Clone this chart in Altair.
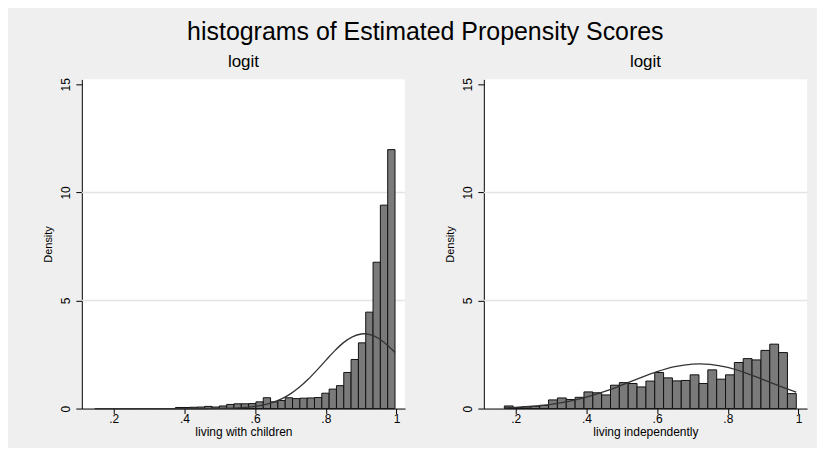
import altair as alt
import pandas as pd

FONT = "Liberation Sans"

# ---- left panel: living with children (41 bins) ----
LEFT_BIN_START = 0.147
LEFT_BIN_WIDTH = 0.0207
left_density = [0, 0, 0, 0, 0, 0, 0, 0, 0, 0, 0,
                0.05, 0.05, 0.06, 0.07, 0.10, 0.07, 0.12, 0.19, 0.22, 0.22,
                0.23, 0.31, 0.50, 0.31, 0.37, 0.50, 0.46, 0.48, 0.49, 0.51,
                0.71, 0.90, 1.06, 1.67, 2.27, 3.04, 4.46, 6.77, 9.41, 11.98]
left_curve_x = [0.147, 0.45, 0.50, 0.55, 0.60, 0.625, 0.65, 0.675, 0.70, 0.725, 0.75,
                0.775, 0.80, 0.825, 0.85, 0.875, 0.90, 0.908, 0.925, 0.95, 0.975, 0.996]
left_curve_y = [0.0, 0.001, 0.007, 0.028, 0.098, 0.170, 0.283, 0.449, 0.680, 0.983, 1.353,
                1.78, 2.23, 2.67, 3.05, 3.32, 3.45, 3.46, 3.42, 3.24, 2.92, 2.59]

# ---- right panel: living independently (33 bins) ----
RIGHT_BIN_START = 0.168
RIGHT_BIN_WIDTH = 0.02502
right_density = [0.12, 0.05, 0.08, 0.10, 0.15, 0.40, 0.49, 0.42, 0.52, 0.77,
                 0.73, 0.63, 1.08, 1.20, 1.16, 1.00, 1.27, 1.67, 1.42, 1.28,
                 1.30, 1.56, 1.16, 1.79, 1.36, 1.56, 2.13, 2.31, 2.25, 2.69,
                 2.98, 2.59, 0.69]
right_curve_x = [0.168, 0.20, 0.25, 0.30, 0.35, 0.40, 0.45, 0.50, 0.55, 0.60, 0.65,
                 0.70, 0.72, 0.75, 0.80, 0.85, 0.90, 0.95, 0.9935]
right_curve_y = [0.035, 0.055, 0.107, 0.194, 0.330, 0.523, 0.778, 1.081, 1.404, 1.706, 1.938,
                 2.059, 2.07, 2.045, 1.900, 1.650, 1.340, 1.017, 0.759]

x_ticks = [0.2, 0.4, 0.6, 0.8, 1.0]
y_ticks = [0, 5, 10, 15]
grid_vals = [5, 10]

X_DOMAIN = [0.11, 1.024]
Y_DOMAIN = [0, 15.23]


def panel(density, start, width, cx, cy, xtitle):
    bins = pd.DataFrame({
        "x0": [start + i * width for i in range(len(density))],
        "x1": [start + (i + 1) * width for i in range(len(density))],
        "d": density,
    })
    curve = pd.DataFrame({"x": cx, "y": cy})
    grid = pd.DataFrame({"g": grid_vals})

    xscale = alt.Scale(domain=X_DOMAIN, nice=False, zero=False)
    yscale = alt.Scale(domain=Y_DOMAIN, nice=False)

    xaxis = alt.Axis(values=x_ticks, title=xtitle, grid=False,
                     labelExpr="datum.value == 1 ? '1' : replace(format(datum.value, '.1f'), '0.', '.')")
    yaxis = alt.Axis(values=y_ticks, title="Density", grid=False, labelAngle=-90,
                     labelAlign="center", labelBaseline="bottom")

    g = alt.Chart(grid).mark_rule(color="#e4e4e4", strokeWidth=1.5).encode(
        y=alt.Y("g:Q", scale=yscale, axis=yaxis)
    )
    bars = alt.Chart(bins).mark_rect(fill="#7a7a7a", stroke="#111111", strokeWidth=1).encode(
        x=alt.X("x0:Q", scale=xscale, axis=xaxis),
        x2="x1:Q",
        y=alt.Y("d:Q", scale=yscale, axis=yaxis),
        y2=alt.datum(0),
    )
    line = alt.Chart(curve).mark_line(color="#333333", strokeWidth=1.3,
                                      interpolate="monotone").encode(
        x=alt.X("x:Q", scale=xscale, axis=xaxis),
        y=alt.Y("y:Q", scale=yscale, axis=yaxis),
    )
    return alt.layer(g, bars, line).properties(
        width=324, height=330,
        title=alt.TitleParams("logit", fontSize=17, font=FONT, fontWeight="normal",
                              color="black", offset=7),
    )


left = panel(left_density, LEFT_BIN_START, LEFT_BIN_WIDTH, left_curve_x, left_curve_y,
             "living with children")
right = panel(right_density, RIGHT_BIN_START, RIGHT_BIN_WIDTH, right_curve_x, right_curve_y,
              "living independently")

chart = alt.hconcat(left, right, spacing=39).properties(
    title=alt.TitleParams("histograms of Estimated Propensity Scores", fontSize=25,
                          font=FONT, fontWeight="normal", color="black",
                          anchor="middle", offset=8),
    background="#efefef",
    padding={"left": 35, "top": 11, "right": 9, "bottom": 10},
).configure_view(
    fill="white", stroke=None
).configure_axis(
    labelFont=FONT, titleFont=FONT, labelFontSize=12, titleFontSize=12,
    titleFontWeight="normal", labelColor="black", titleColor="black",
    domainColor="black", tickColor="black", domainWidth=1,
).configure_axisX(
    tickSize=5, labelPadding=0, titlePadding=2, labelFontSize=12, titleFontSize=12,
).configure_axisY(
    tickSize=6, titleFontSize=11, labelFontSize=12, titlePadding=6, labelPadding=3,
)

chart.save("out.html", embed_options={"renderer": "svg", "actions": False})
